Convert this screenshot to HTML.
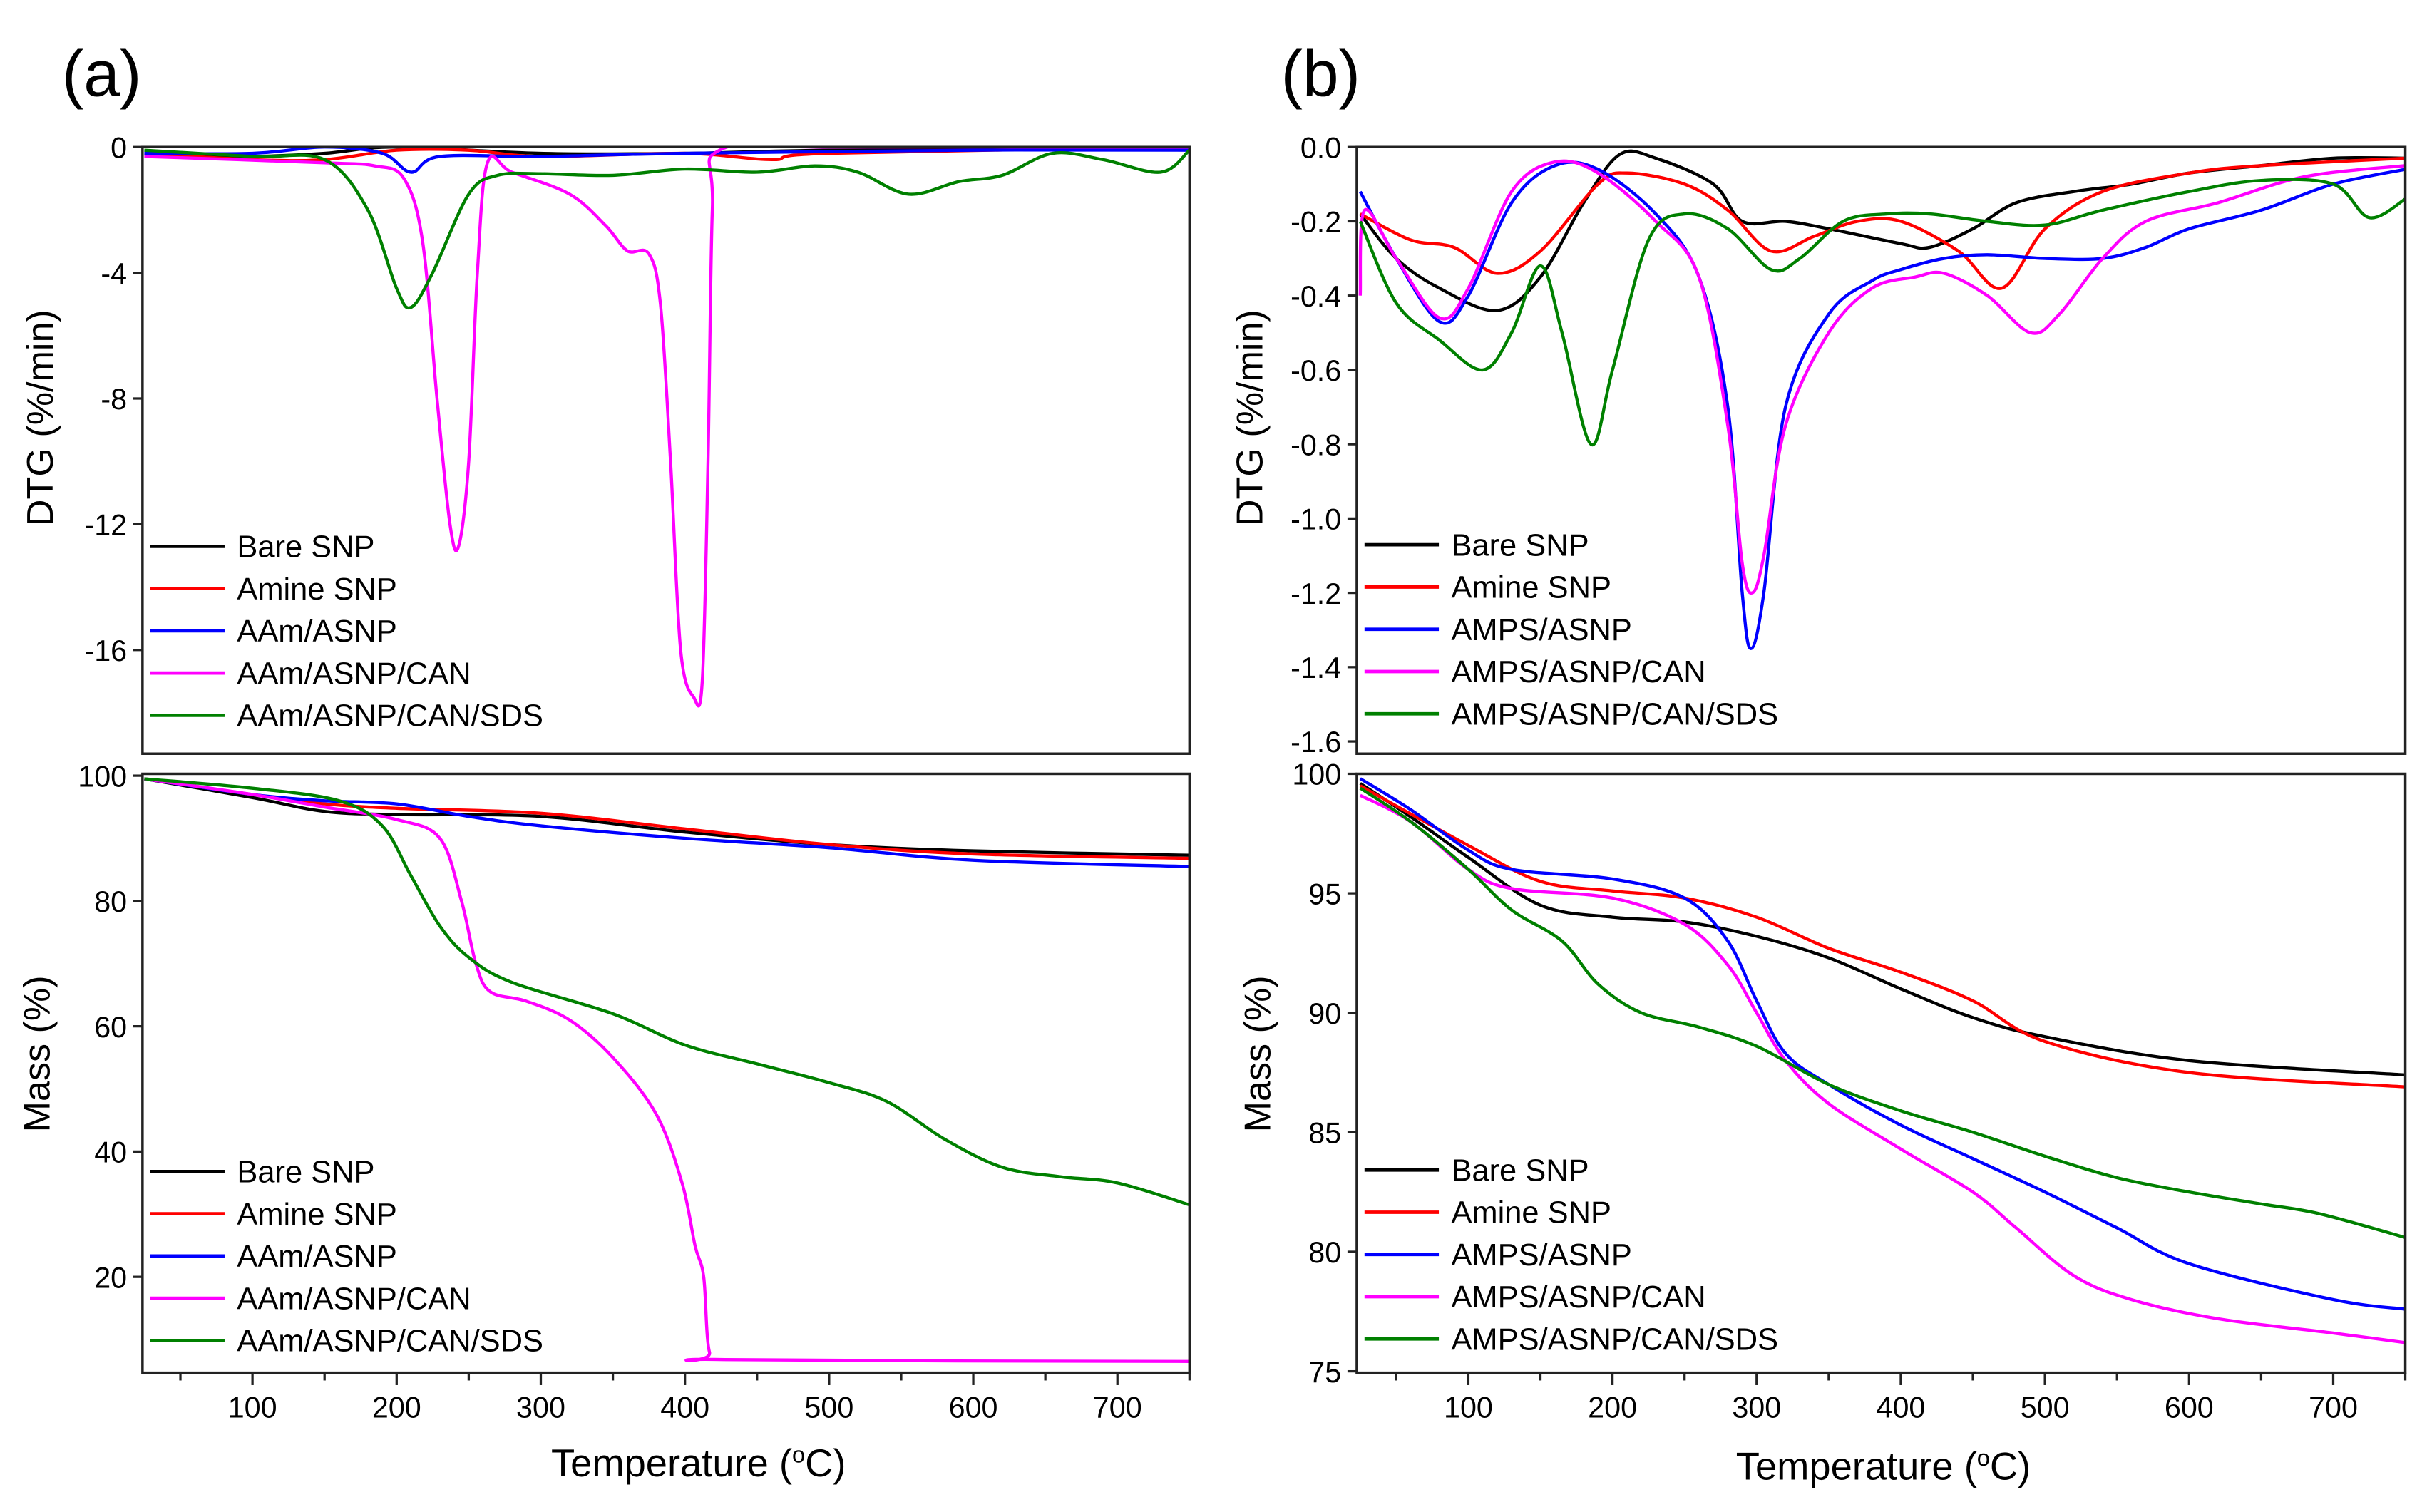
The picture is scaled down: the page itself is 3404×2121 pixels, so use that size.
<!DOCTYPE html>
<html><head><meta charset="utf-8"><style>
html,body{margin:0;padding:0;background:#fff}
svg{display:block}
text{font-family:"Liberation Sans",Arial,sans-serif;fill:#000}
</style></head><body>
<svg id="fig" width="3404" height="2121" viewBox="0 0 1567 977" preserveAspectRatio="none" xmlns="http://www.w3.org/2000/svg">
<text x="40" y="62" font-size="42">(a)</text>
<text x="827" y="62" font-size="42">(b)</text>
<text transform="translate(34,270) rotate(-90)" text-anchor="middle" font-size="24">DTG (%/min)</text>
<text transform="translate(32,681) rotate(-90)" text-anchor="middle" font-size="24">Mass (%)</text>
<text transform="translate(815,270) rotate(-90)" text-anchor="middle" font-size="24">DTG (%/min)</text>
<text transform="translate(820,681) rotate(-90)" text-anchor="middle" font-size="24">Mass (%)</text>
<text x="451" y="954" text-anchor="middle" font-size="25">Temperature (<tspan font-size="15" dy="-9">o</tspan><tspan dy="9">C)</tspan></text>
<text x="1216" y="956" text-anchor="middle" font-size="25">Temperature (<tspan font-size="15" dy="-9">o</tspan><tspan dy="9">C)</tspan></text>
</svg>
<script>
const colors=['#000000','#ff0000','#0000ff','#ff00ff','#008000'];
const namesA=['Bare SNP','Amine SNP','AAm/ASNP','AAm/ASNP/CAN','AAm/ASNP/CAN/SDS'];
const namesB=['Bare SNP','Amine SNP','AMPS/ASNP','AMPS/ASNP/CAN','AMPS/ASNP/CAN/SDS'];
const xTicks=[100,200,300,400,500,600,700];
const aDtgTicks=[0,-4,-8,-12,-16];
const aMassTicks=[100,80,60,40,20];
const bDtgTicks=[0,-0.2,-0.4,-0.6,-0.8,-1.0,-1.2,-1.4,-1.6];
const bMassTicks=[100,95,90,85,80,75];
// panel (a) DTG
const aDtgBare=[[25,-0.3],[100,-0.3],[150,-0.2],[200,0],[300,-0.2],[400,-0.2],[500,-0.1],[750,0]];
const aDtgAmine=[[25,-0.2],[100,-0.4],[150,-0.4],[200,-0.1],[250,-0.1],[300,-0.3],[400,-0.2],[460,-0.4],[500,-0.2],[750,0]];
const aDtgAAm=[[25,-0.2],[100,-0.2],[150,0],[190,-0.2],[210,-0.8],[230,-0.3],[300,-0.3],[400,-0.2],[600,-0.1],[750,-0.1]];
const aDtgCAN=[[25,-0.3],[150,-0.5],[185,-0.6],[205,-1.0],[218,-3],[228,-8],[237,-12],[243,-12.7],[250,-10],[256,-4],[263,-0.5],[280,-0.8],[320,-1.5],[345,-2.5],[360,-3.3],[375,-3.4],[383,-5],[390,-10],[397,-16],[406,-17.5],[412,-17],[416,-10],[419,-2],[424,-0.1],[500,0],[750,0]];
const aDtgSDS=[[25,-0.1],[100,-0.3],[150,-0.4],[180,-2],[200,-4.5],[210,-5.1],[225,-4],[250,-1.5],[270,-0.9],[300,-0.85],[350,-0.9],[400,-0.7],[450,-0.8],[490,-0.6],[520,-0.8],[555,-1.5],[590,-1.1],[620,-0.9],[655,-0.2],[690,-0.4],[730,-0.8],[750,-0.1]];
// panel (a) Mass
const aMassBare=[[25,99.5],[100,96.5],[150,94.3],[200,93.8],[300,93.5],[400,91],[500,89],[600,88],[750,87.3]];
const aMassAmine=[[25,99.5],[100,97],[150,95.5],[200,94.8],[300,94],[400,91.5],[500,89],[600,87.5],[750,86.8]];
const aMassAAm=[[25,99.5],[100,97],[150,96],[200,95.5],[250,93.5],[300,92],[400,90],[500,88.5],[600,86.5],[750,85.5]];
const aMassCAN=[[25,99.5],[100,97],[150,95],[200,93],[230,90],[245,80],[255,70],[265,65.5],[290,64],[320,61],[350,55],[380,46],[398,35],[407,25],[413,20],[417,8],[428,6.8],[750,6.5]];
const aMassSDS=[[25,99.5],[100,98],[160,96],[190,92],[210,84],[230,76],[250,71],[280,67],[350,62],[400,57],[450,54],[500,51],[540,48],[580,42],[620,37.5],[660,36],[700,35],[750,31.5]];
// panel (b) DTG
const bDtgBare=[[25,-0.18],[50,-0.3],[80,-0.38],[120,-0.44],[150,-0.35],[180,-0.15],[205,-0.02],[230,-0.03],[270,-0.1],[290,-0.2],[320,-0.2],[350,-0.22],[400,-0.26],[420,-0.27],[450,-0.22],[480,-0.15],[520,-0.12],[560,-0.1],[600,-0.07],[650,-0.05],[700,-0.03],[750,-0.03]];
const bDtgAmine=[[25,-0.18],[60,-0.25],[90,-0.27],[120,-0.34],[150,-0.28],[190,-0.1],[210,-0.07],[250,-0.1],[280,-0.17],[310,-0.28],[340,-0.24],[370,-0.2],[400,-0.2],[440,-0.28],[470,-0.38],[500,-0.22],[540,-0.12],[600,-0.07],[650,-0.05],[750,-0.03]];
const bDtgAMPS=[[25,-0.12],[50,-0.3],[80,-0.47],[100,-0.4],[130,-0.15],[160,-0.05],[190,-0.06],[230,-0.18],[260,-0.35],[280,-0.7],[290,-1.2],[296,-1.35],[305,-1.2],[320,-0.7],[350,-0.45],[380,-0.36],[400,-0.33],[430,-0.3],[460,-0.29],[500,-0.3],[540,-0.3],[570,-0.27],[600,-0.22],[650,-0.17],[700,-0.1],[750,-0.06]];
const bDtgCAN=[[25,-0.4],[28,-0.17],[50,-0.3],[80,-0.46],[100,-0.38],[130,-0.12],[160,-0.04],[190,-0.07],[230,-0.2],[260,-0.35],[280,-0.75],[290,-1.12],[297,-1.2],[305,-1.1],[320,-0.75],[350,-0.5],[380,-0.38],[410,-0.35],[430,-0.34],[460,-0.4],[490,-0.5],[510,-0.45],[540,-0.3],[570,-0.2],[620,-0.15],[680,-0.08],[750,-0.05]];
const bDtgSDS=[[25,-0.2],[50,-0.42],[80,-0.52],[110,-0.6],[130,-0.5],[150,-0.32],[165,-0.5],[185,-0.8],[200,-0.6],[225,-0.25],[250,-0.18],[280,-0.22],[310,-0.33],[330,-0.3],[360,-0.2],[390,-0.18],[420,-0.18],[460,-0.2],[500,-0.21],[540,-0.17],[600,-0.12],[650,-0.09],[700,-0.1],[725,-0.19],[750,-0.14]];
// panel (b) Mass
const bMassBare=[[25,99.6],[60,98.2],[100,96.5],[150,94.5],[200,94],[250,93.8],[300,93.2],[350,92.3],[400,91],[450,89.8],[500,89],[600,88],[750,87.4]];
const bMassAmine=[[25,99.5],[100,97],[150,95.5],[200,95.1],[250,94.8],[300,94],[350,92.7],[400,91.7],[450,90.5],[500,88.8],[600,87.5],[750,86.9]];
const bMassAMPS=[[25,99.8],[60,98.5],[100,96.8],[130,96],[200,95.6],[250,94.8],[280,93],[300,90.5],[320,88.3],[350,87],[400,85.3],[450,83.9],[500,82.5],[550,81],[600,79.5],[700,78],[750,77.6]];
const bMassCAN=[[25,99.1],[60,98],[100,96],[130,95.2],[200,94.8],[250,93.7],[280,92],[300,90],[320,88],[350,86.2],[400,84.3],[450,82.5],[480,81],[520,79],[560,78],[620,77.2],[700,76.6],[750,76.2]];
const bMassSDS=[[25,99.4],[60,98],[100,96],[130,94.3],[165,93],[190,91.2],[220,90],[260,89.4],[300,88.6],[350,87],[400,85.9],[450,85],[500,84],[550,83.1],[600,82.5],[650,82],[690,81.6],[750,80.6]];

const NS='http://www.w3.org/2000/svg';
const svg=document.getElementById('fig');
function el(t,a,p){const e=document.createElementNS(NS,t);for(const k in a)e.setAttribute(k,a[k]);(p||svg).appendChild(e);return e;}
function fmt(v,d){return d?v.toFixed(1):String(v);}
function panel(id,L,R,T,B,xmin,xmax,ymax,ymin,yt,dec,series,names,legY,showX){
  const g=el('g',{});
  
  
  const X=v=>L+(v-xmin)/(xmax-xmin)*(R-L);
  const Y=v=>T+(ymax-v)/(ymax-ymin)*(B-T);
  const clip=el('clipPath',{id:'c'+id},g);el('rect',{x:L,y:T,width:R-L,height:B-T},clip);
  const lg=el('g',{'clip-path':'url(#c'+id+')'},g);
  series.forEach((s,i)=>{
    const P=s.map(p=>[X(p[0]),Y(p[1])]);
    let d='M'+P[0][0].toFixed(2)+' '+P[0][1].toFixed(2);
    for(let k=0;k<P.length-1;k++){
      const p0=P[k-1]||P[k],p1=P[k],p2=P[k+1],p3=P[k+2]||p2;
      const c1=[p1[0]+(p2[0]-p0[0])/6,p1[1]+(p2[1]-p0[1])/6],c2=[p2[0]-(p3[0]-p1[0])/6,p2[1]-(p3[1]-p1[1])/6];
      d+=' C'+c1.map(v=>v.toFixed(2)).join(' ')+' '+c2.map(v=>v.toFixed(2)).join(' ')+' '+p2[0].toFixed(2)+' '+p2[1].toFixed(2);
    }
    const path=el('path',{d:d,fill:'none',stroke:colors[i],'stroke-width':2},lg);
    
    
  });
  const fr=el('rect',{x:L,y:T,width:R-L,height:B-T,fill:'none',stroke:'#222','stroke-width':1.6},g);
  
  
  yt.forEach(v=>{
    el('line',{x1:L-6,x2:L,y1:Y(v),y2:Y(v),stroke:'#222','stroke-width':1.5},g);
    const t=el('text',{x:L-10,y:Y(v)+7,'text-anchor':'end','font-size':19},g);
    t.textContent=fmt(v,dec);
    
    
  });
  if(showX){
    for(let v=50;v<=xmax;v+=50){if(v<xmin)continue;el('line',{x1:X(v),x2:X(v),y1:B,y2:B+(v%100?5:8),stroke:'#222','stroke-width':1.5},g);}
    xTicks.forEach(v=>{
      const t=el('text',{x:X(v),y:B+29,'text-anchor':'middle','font-size':19},g);
      t.textContent=v;
      
      
    });
  }
  names.forEach((n,i)=>{
    const y=legY+i*27.3;
    const lgi=el('g',{},g);
    
    
    el('line',{x1:L+5,x2:L+53,y1:y,y2:y,stroke:colors[i],'stroke-width':2.2},lgi);
    const t=el('text',{x:L+61,y:y+7,'font-size':20},lgi);t.textContent=n;
  });
}
panel('a-dtg',92,768,95,487,23.7,750,0,-19.3,aDtgTicks,false,[aDtgBare,aDtgAmine,aDtgAAm,aDtgCAN,aDtgSDS],namesA,353,false);
panel('a-mass',92,768,500,887,23.7,750,100.3,4.7,aMassTicks,false,[aMassBare,aMassAmine,aMassAAm,aMassCAN,aMassSDS],namesA,757,true);
panel('b-dtg',876,1553,95,487,22.6,750,0,-1.633,bDtgTicks,true,[bDtgBare,bDtgAmine,bDtgAMPS,bDtgCAN,bDtgSDS],namesB,352,false);
panel('b-mass',876,1553,500,887,22.6,750,100,74.94,bMassTicks,false,[bMassBare,bMassAmine,bMassAMPS,bMassCAN,bMassSDS],namesB,756,true);
</script>
</body></html>
